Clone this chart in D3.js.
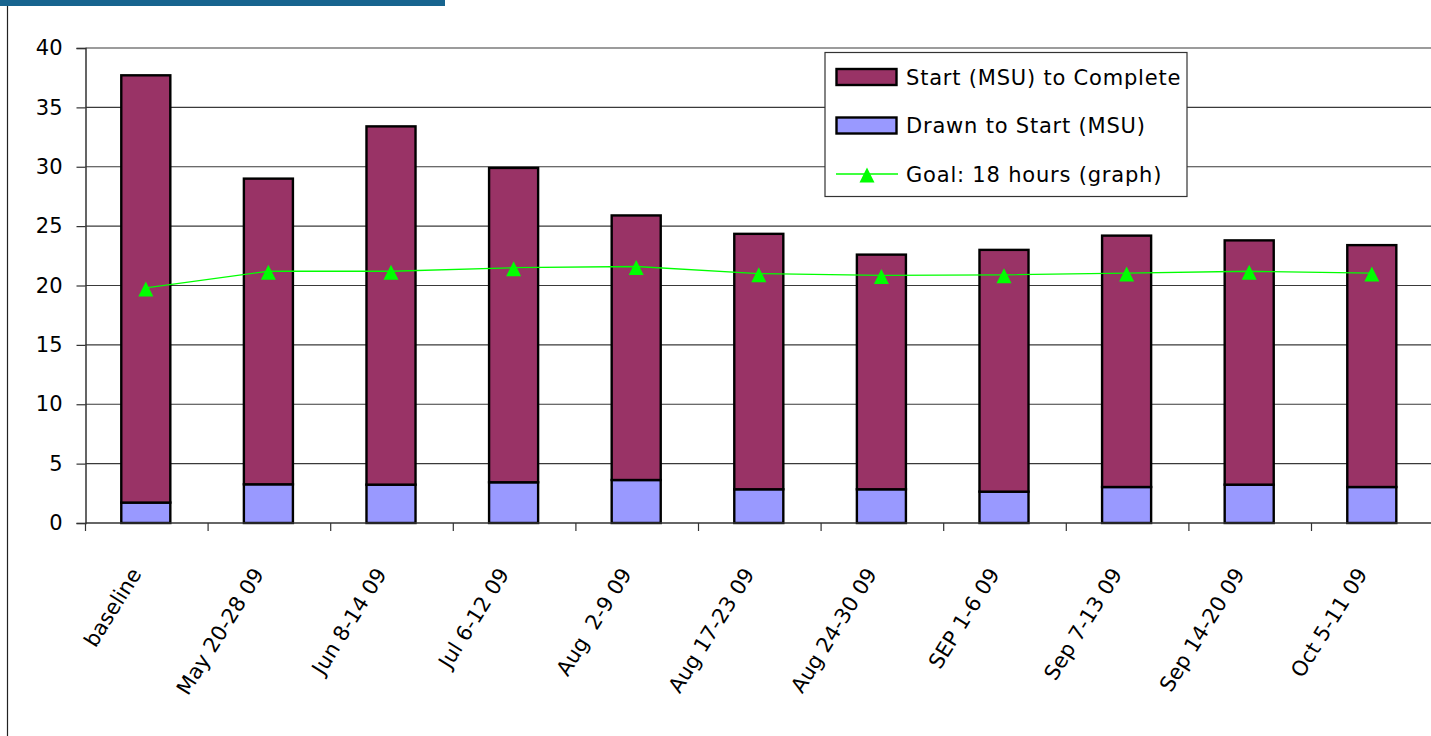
<!DOCTYPE html>
<html>
<head>
<meta charset="utf-8">
<script src="https://cdn.jsdelivr.net/npm/d3@7"></script>
<style>
  html, body { margin: 0; padding: 0; background: #fff; overflow: hidden; }
  svg { display: block; font-family: "DejaVu Sans", sans-serif; }
  text { white-space: pre; }
</style>
</head>
<body>
<svg id="chart" width="1431" height="736"></svg>
<script>
// Categories (x axis)
const categories = [
  'baseline', 'May 20-28 09', 'Jun 8-14 09', 'Jul 6-12 09', 'Aug  2-9 09',
  'Aug 17-23 09', 'Aug 24-30 09', 'SEP 1-6 09', 'Sep 7-13 09', 'Sep 14-20 09', 'Oct 5-11 09',
];

// Series values (hours)
const drawnToStart = [1.72, 3.26, 3.23, 3.43, 3.62, 2.84, 2.84, 2.64, 3.03, 3.23, 3.03];
const startToComplete = [35.98, 25.74, 30.17, 26.47, 22.28, 21.51, 19.76, 20.36, 21.17, 20.57, 20.37];
const goalLine = [19.8, 21.2, 21.2, 21.5, 21.6, 21.0, 20.85, 20.9, 21.05, 21.2, 21.05];

// Legend labels and y ticks
const seriesNames = ['Start (MSU) to Complete', 'Drawn to Start (MSU)', 'Goal: 18 hours (graph)'];
const yTicks = [0, 5, 10, 15, 20, 25, 30, 35, 40];

const colors = {
  complete: '#993366',
  drawn: '#9999FF',
  goal: '#00FF00',
};

const svg = d3.select('#chart');

// frame: blue header strip and left rule
svg.append('rect')
  .attr('x', 0).attr('y', 0)
  .attr('width', 445).attr('height', 6)
  .attr('fill', '#17648F');

svg.append('line')
  .attr('x1', 7.5).attr('x2', 7.5)
  .attr('y1', 6).attr('y2', 736)
  .attr('stroke', '#222').attr('stroke-width', 1.2);

// scales
const step = 122.6;
const x0 = 85.5;
const x = d3.scaleBand()
  .domain(categories)
  .range([x0, x0 + step * categories.length])
  .paddingInner(0.6)
  .paddingOuter(0.3);

const y = d3.scaleLinear()
  .domain([0, 40])
  .range([523, 48]);

// gridlines
svg.append('g')
  .attr('class', 'grid')
  .selectAll('line')
  .data(yTicks.filter((t) => t > 0))
  .enter()
  .append('line')
  .attr('x1', x0).attr('x2', 1431)
  .attr('y1', (d) => y(d)).attr('y2', (d) => y(d))
  .attr('stroke', '#3a3a3a').attr('stroke-width', 1.2);

// y axis
const yAxis = svg.append('g')
  .attr('transform', `translate(${x0},0)`)
  .call(d3.axisLeft(y).tickValues(yTicks).tickSize(9).tickPadding(14));
yAxis.select('.domain').attr('stroke', '#333').attr('stroke-width', 1.5);
yAxis.selectAll('.tick line').attr('stroke', '#333').attr('stroke-width', 1.2);
yAxis.selectAll('.tick text')
  .attr('font-size', 21)
  .attr('font-family', '"DejaVu Sans", sans-serif')
  .attr('fill', '#000');

// stacked bars
const rows = categories.map((c, i) => ({
  category: c,
  drawn: drawnToStart[i],
  complete: startToComplete[i],
}));

const stacked = d3.stack().keys(['drawn', 'complete'])(rows);

svg.append('g')
  .attr('class', 'bars')
  .selectAll('g')
  .data(stacked)
  .enter()
  .append('g')
  .attr('fill', (s) => colors[s.key])
  .selectAll('rect')
  .data((s) => s)
  .enter()
  .append('rect')
  .attr('x', (d) => x(d.data.category) - 1)
  .attr('width', x.bandwidth())
  .attr('y', (d) => y(d[1]))
  .attr('height', (d) => y(d[0]) - y(d[1]))
  .attr('stroke', '#000')
  .attr('stroke-width', 2.4);

// x axis line and boundary ticks
svg.append('line')
  .attr('x1', x0).attr('x2', 1431)
  .attr('y1', y(0)).attr('y2', y(0))
  .attr('stroke', '#333').attr('stroke-width', 1.5);

svg.append('g')
  .selectAll('line')
  .data(d3.range(categories.length + 1))
  .enter()
  .append('line')
  .attr('x1', (k) => x.range()[0] + k * x.step())
  .attr('x2', (k) => x.range()[0] + k * x.step())
  .attr('y1', y(0)).attr('y2', y(0) + 8)
  .attr('stroke', '#333').attr('stroke-width', 1.2);

// rotated category labels
svg.append('g')
  .selectAll('text')
  .data(categories)
  .enter()
  .append('text')
  .attr('transform', (c) => `translate(${x(c) + x.bandwidth() / 2 - 11},570) rotate(-58)`)
  .attr('text-anchor', 'end')
  .attr('dy', '0.35em')
  .attr('font-size', 21)
  .attr('fill', '#000')
  .text((c) => c);

// goal line
const cx = (i) => x(categories[i]) + x.bandwidth() / 2 - 1;
const trianglePath = 'M0,-7.5L7.5,7.5L-7.5,7.5Z';

svg.append('path')
  .datum(goalLine)
  .attr('fill', 'none')
  .attr('stroke', colors.goal)
  .attr('stroke-width', 1.3)
  .attr('d', d3.line().x((d, i) => cx(i)).y((d) => y(d)));

svg.append('g')
  .selectAll('path')
  .data(goalLine)
  .enter()
  .append('path')
  .attr('transform', (d, i) => `translate(${cx(i)},${y(d) + 1})`)
  .attr('d', trianglePath)
  .attr('fill', colors.goal);

// legend
const legend = svg.append('g').attr('transform', 'translate(825,52.5)');
legend.append('rect')
  .attr('width', 362).attr('height', 144)
  .attr('fill', '#fff')
  .attr('stroke', '#333').attr('stroke-width', 1.2);

const rowY = [24.5, 73, 121.5];
const swatchFill = [colors.complete, colors.drawn];

swatchFill.forEach((fill, i) => {
  legend.append('rect')
    .attr('x', 11.5).attr('y', rowY[i] - 8)
    .attr('width', 60).attr('height', 16)
    .attr('fill', fill)
    .attr('stroke', '#000').attr('stroke-width', 2.4);
});

legend.append('line')
  .attr('x1', 11).attr('x2', 73)
  .attr('y1', rowY[2]).attr('y2', rowY[2])
  .attr('stroke', colors.goal).attr('stroke-width', 1.3);
legend.append('path')
  .attr('transform', `translate(42,${rowY[2] + 1})`)
  .attr('d', trianglePath)
  .attr('fill', colors.goal);

legend.selectAll('text.label')
  .data(seriesNames)
  .enter()
  .append('text')
  .attr('class', 'label')
  .attr('x', 81)
  .attr('y', (d, i) => rowY[i])
  .attr('dy', '0.36em')
  .attr('font-size', 21)
  .attr('letter-spacing', 0.8)
  .attr('fill', '#000')
  .text((d) => d);
</script>
</body>
</html>
